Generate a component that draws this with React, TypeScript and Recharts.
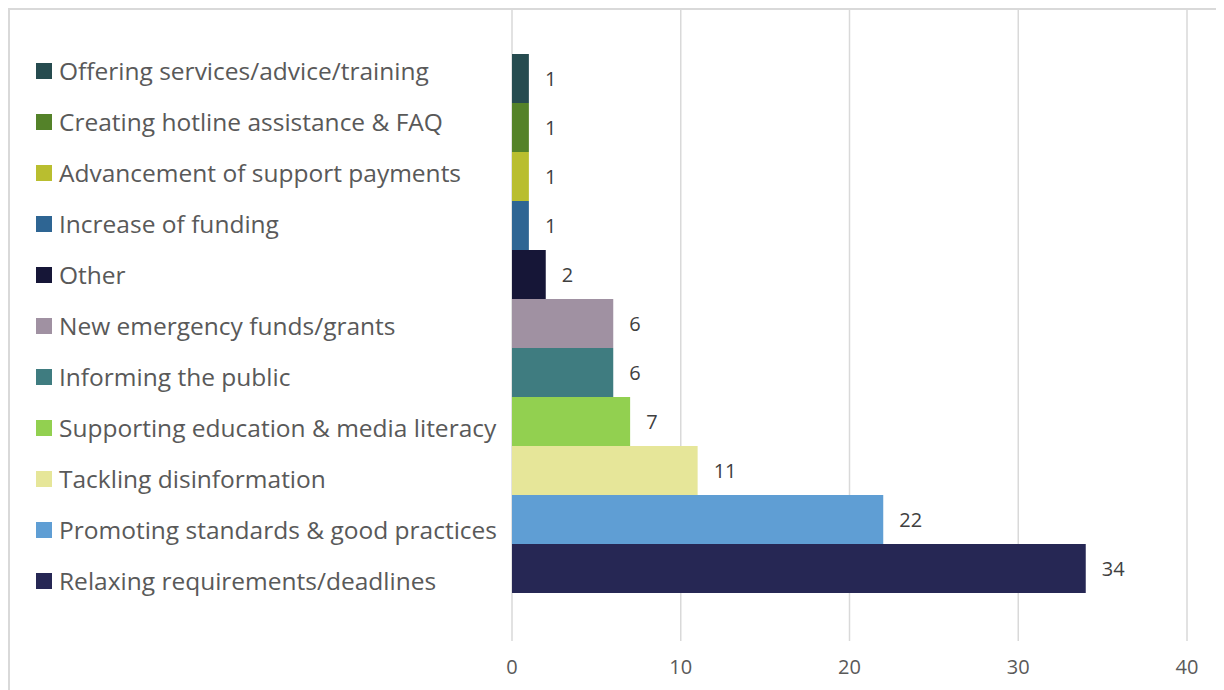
import { BarChart, Bar, XAxis, YAxis, CartesianGrid, Legend, LabelList } from "recharts"

// measures, listed top to bottom as drawn
const measures = [
  "Offering services/advice/training",
  "Creating hotline assistance & FAQ",
  "Advancement of support payments",
  "Increase of funding",
  "Other",
  "New emergency funds/grants",
  "Informing the public",
  "Supporting education & media literacy",
  "Tackling disinformation",
  "Promoting standards & good practices",
  "Relaxing requirements/deadlines",
]
const counts = [1, 1, 1, 1, 2, 6, 6, 7, 11, 22, 34]
const colors = [
  "#264b4f",
  "#548229",
  "#b9be2f",
  "#2e6593",
  "#161637",
  "#a091a2",
  "#3f7c80",
  "#92d050",
  "#e6e699",
  "#5f9ed4",
  "#262754",
]
const xTicks = [0, 10, 20, 30, 40]

const FONT = "'Open Sans', 'Noto Sans', sans-serif"

// one category row, one series per measure (like Excel's clustered bar)
const row: Record<string, number | string> = { name: "all" }
measures.forEach((m, i) => {
  row[`s${i}`] = counts[i]
})
const data = [row]

function SideLegend() {
  return (
    <div style={{ fontFamily: FONT }}>
      {measures.map((m, i) => (
        <div
          key={m}
          style={{ height: 51, display: "flex", alignItems: "center", whiteSpace: "nowrap" }}
        >
          <span
            style={{
              display: "inline-block",
              width: 16,
              height: 16,
              background: colors[i],
              marginRight: 7,
            }}
          />
          <span style={{ fontSize: 24.5, color: "#595959" }}>{m}</span>
        </div>
      ))}
    </div>
  )
}

export default function App() {
  return (
    <div
      style={{
        width: 1210,
        height: 690,
        border: "2px solid #d9d9d9",
        background: "#fff",
        overflow: "hidden",
      }}
    >
      <BarChart
        width={1210}
        height={680}
        data={data}
        layout="vertical"
        margin={{ top: 0, right: 33, bottom: 0, left: 12 }}
        barGap={0}
        barCategoryGap={44}
      >
        <CartesianGrid horizontal={false} stroke="#d9d9d9" strokeWidth={1.5} />
        <XAxis
          type="number"
          domain={[0, 40]}
          ticks={xTicks}
          axisLine={false}
          tickLine={false}
          height={49}
          tickMargin={13}
          tick={{ fontSize: 20, fill: "#595959", fontFamily: FONT }}
        />
        <YAxis type="category" dataKey="name" hide width={0} />
        <Legend
          layout="vertical"
          align="left"
          verticalAlign="top"
          content={() => <SideLegend />}
          wrapperStyle={{ left: 26, top: 35, width: 490 }}
        />
        {measures.map((m, i) => (
          <Bar
            key={m}
            dataKey={`s${i}`}
            name={m}
            fill={colors[i]}
            isAnimationActive={false}
          >
            <LabelList
              dataKey={`s${i}`}
              position="right"
              offset={16}
              style={{ fontSize: 20, fill: "#404040", fontFamily: FONT }}
            />
          </Bar>
        ))}
      </BarChart>
    </div>
  )
}
